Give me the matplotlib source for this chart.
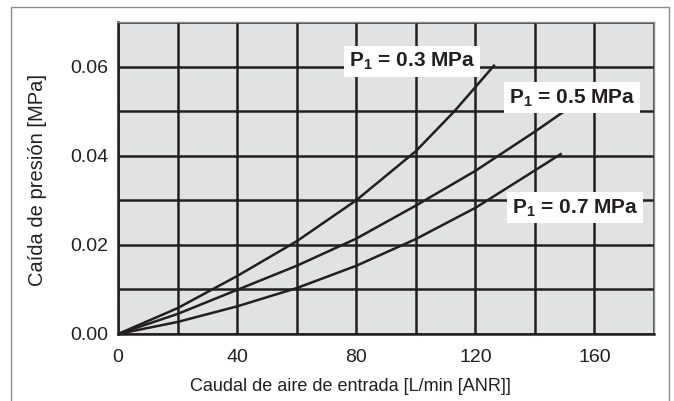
import matplotlib
matplotlib.use("Agg")
import matplotlib.pyplot as plt
from matplotlib.patches import Rectangle
from matplotlib.ticker import MultipleLocator

plt.rcParams['font.family'] = ['Liberation Sans', 'DejaVu Sans']
plt.rcParams['mathtext.fontset'] = 'custom'
plt.rcParams['mathtext.rm'] = 'Liberation Sans'
plt.rcParams['mathtext.bf'] = 'Liberation Sans:bold'

# Data
x_03 = [0, 20, 40, 60, 80, 100, 113, 126.5]
y_03 = [0, 0.0058, 0.0130, 0.0208, 0.0300, 0.0410, 0.0500, 0.0604]
x_05 = [0, 20, 40, 60, 80, 100, 120, 140, 149.5]
y_05 = [0, 0.0045, 0.0099, 0.0153, 0.0214, 0.0288, 0.0366, 0.0454, 0.0498]
x_07 = [0, 20, 40, 60, 80, 100, 120, 140, 149]
y_07 = [0, 0.0027, 0.0062, 0.0103, 0.0153, 0.0213, 0.0283, 0.0367, 0.0405]

labels = [r'P$_{\mathbf{1}}$ = 0.3 MPa', r'P$_{\mathbf{1}}$ = 0.5 MPa', r'P$_{\mathbf{1}}$ = 0.7 MPa']
label_pos = [(98.7, 0.0612), (152.5, 0.0530), (153.5, 0.0283)]

x_ticks = [0, 40, 80, 120, 160]
y_ticks = [0.00, 0.02, 0.04, 0.06]
y_tick_labels = ['0.00', '0.02', '0.04', '0.06']

W, H = 674, 401
fig = plt.figure(figsize=(W / 100, H / 100), dpi=100)
fig.patch.set_facecolor('white')

# outer frame
fig.patches.append(Rectangle((11 / W, -0.05), (669 - 11) / W, (H - 7) / H + 0.05,
                             transform=fig.transFigure, fill=False,
                             edgecolor='#8c8c8c', linewidth=1.0))

ax = fig.add_axes([118 / W, (H - 334) / H, 536 / W, 312 / H])
ax.set_facecolor('#e1e2e4')
ax.set_xlim(0, 180)
ax.set_ylim(0, 0.07)

ax.set_xticks(x_ticks)
ax.set_xticklabels([str(v) for v in x_ticks])
ax.set_yticks(y_ticks)
ax.set_yticklabels(y_tick_labels)
ax.xaxis.set_minor_locator(MultipleLocator(20))
ax.yaxis.set_minor_locator(MultipleLocator(0.01))
ax.tick_params(which='both', length=0, labelsize=14, colors='#231f20')
ax.tick_params(axis='x', pad=11)
ax.tick_params(axis='y', pad=7)

ax.grid(True, which='both', color='#231f20', linewidth=1.8)
ax.set_axisbelow(True)

for side in ['left', 'bottom']:
    ax.spines[side].set_color('#231f20')
    ax.spines[side].set_linewidth(1.8)
for side in ['top', 'right']:
    ax.spines[side].set_color('#8c8c8c')
    ax.spines[side].set_linewidth(1.0)

line_kw = dict(color='#231f20', linewidth=1.8, solid_capstyle='butt')
ax.plot(x_03, y_03, **line_kw)
ax.plot(x_05, y_05, **line_kw)
ax.plot(x_07, y_07, **line_kw)

for text, (tx, ty) in zip(labels, label_pos):
    ax.text(tx, ty, text, fontsize=15, fontweight='bold', color='#231f20',
            ha='center', va='center', clip_on=False,
            bbox=dict(facecolor='white', edgecolor='none', pad=3.5))

ax.set_xlabel('Caudal de aire de entrada [L/min [ANR]]', fontsize=13, color='#231f20')
ax.xaxis.set_label_coords((350 - 118) / 536, -(378 - 334) / 312)
ax.set_ylabel('Caída de presión [MPa]', fontsize=14.5, color='#231f20')
ax.yaxis.set_label_coords(-(118 - 47) / 536, (334 - 180) / 312)

fig.savefig('out.png', dpi=100)
